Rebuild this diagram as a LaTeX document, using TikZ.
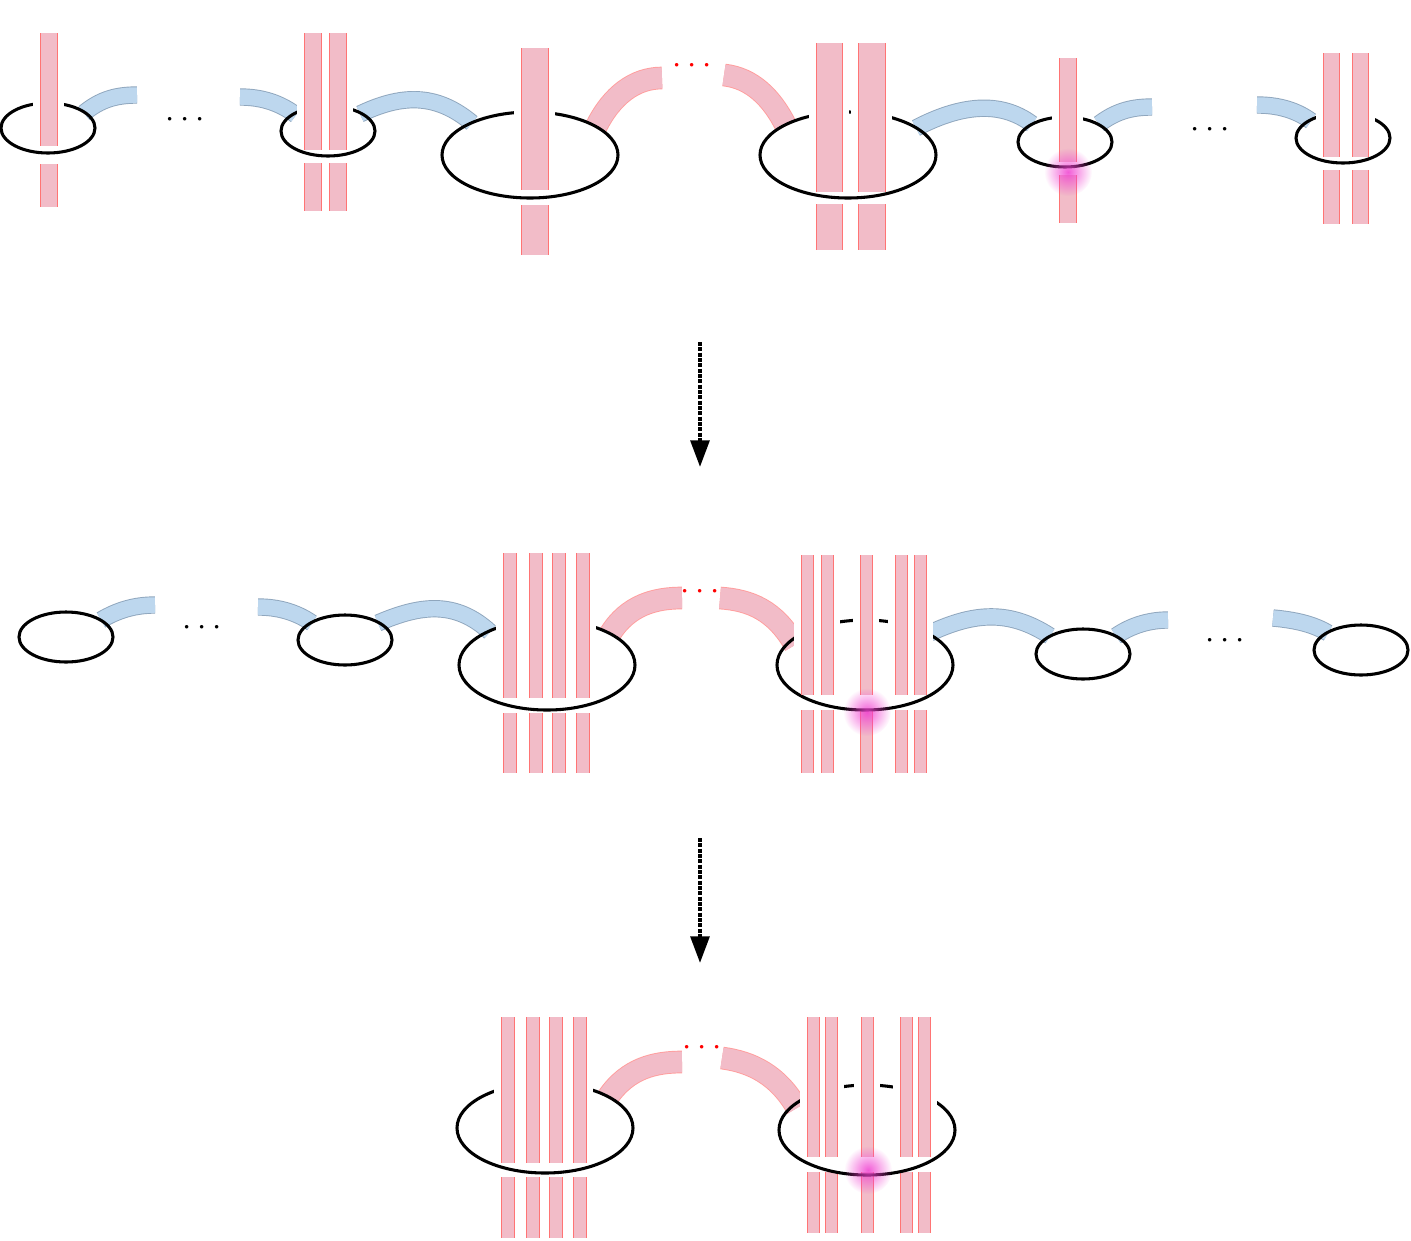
\documentclass[tikz,border=0pt]{standalone}
\usetikzlibrary{arrows.meta,fadings}
\definecolor{bpink}{HTML}{F2BCC8}
\definecolor{bred}{HTML}{FF7474}
\definecolor{bblue}{HTML}{BDD7EE}
\definecolor{bblueedge}{HTML}{8FA6BD}
\definecolor{glowc}{HTML}{F040D0}
\tikzfading[name=glowfade, inner color=transparent!15, outer color=transparent!100]
\tikzset{
  ring/.style={line width=2.3pt,black},
  dotsn/.style={font=\fontsize{30}{30}\selectfont},
  rdots/.style={font=\fontsize{30}{30}\selectfont,text=red},
}
\newcommand{\bandlo}[4]{\fill[bpink] (#1,#3) rectangle (#2,#4);
  \draw[bred,line width=0.7pt] (#1,#3)--(#1,#4) (#2,#3)--(#2,#4);}
\newcommand{\bandgap}[4]{\draw[white,line width=10pt] (#1,#3)--(#1,#4) (#2,#3)--(#2,#4);}
\newcommand{\bandup}[4]{\fill[bpink] (#1,#3) rectangle (#2,#4);
  \draw[bred,line width=0.7pt] (#1,#3)--(#1,#4) (#2,#3)--(#2,#4);}
\newcommand{\bluecon}[1]{\draw[bblueedge,line width=13pt] #1; \draw[bblue,line width=11.6pt] #1;}
\newcommand{\pinkcon}[1]{\draw[bred!70,line width=17pt] #1; \draw[bpink,line width=15.6pt] #1;}
\newcommand{\glow}[2]{\fill[glowc,path fading=glowfade] (#1,#2) circle (24);}
% full ring: list, ytop, ybotup, ylowtop, ylowbot, ymid, cx, cy, rx, ry
\newcommand{\ringset}[9]{%
  \foreach \a/\b in {#1}{\bandlo{\a}{\b}{#4}{#5}}
  \draw[ring] (#7,#6) ellipse (#8 and #9);
  \foreach \a/\b in {#1}{\bandgap{\a}{\b}{#2}{#6}}
  \foreach \a/\b in {#1}{\bandup{\a}{\b}{#2}{#3}}}
\begin{document}
\begin{tikzpicture}[x=0.75pt,y=-0.75pt]
\useasboundingbox (0,0) rectangle (1411,1240);
% ================= ROW 1
\bluecon{(84,113) .. controls (100,100) and (115,95) .. (137,95)}
\bluecon{(240,97) .. controls (262,97) and (280,103) .. (296,115)}
\bluecon{(360,114) .. controls (400,95) and (435,92) .. (472,123)}
\pinkcon{(596,127) .. controls (612,95) and (635,78) .. (662,78)}
\pinkcon{(724,75) .. controls (752,78) and (772,98) .. (786,126)}
\bluecon{(916,128) .. controls (960,105) and (1000,100) .. (1032,124)}
\bluecon{(1099,124) .. controls (1115,112) and (1130,107) .. (1152,107)}
\bluecon{(1257,105) .. controls (1278,105) and (1296,110) .. (1311,121)}
\node[dotsn] (d1) at (185,120) {$\cdots$};
\node[rdots] (d2) at (692,66) {$\cdots$};
\node[dotsn] (d3) at (1210,130) {$\cdots$};
\ringset{40/57}{33}{146}{164}{207}{128}{48}{47}{25}
\ringset{304/321,329/346}{33}{150}{163}{211}{131}{328}{47}{25}
\ringset{521/548}{48}{190}{205}{255}{155}{530}{88}{43}
\ringset{816/842,858/885}{43}{192}{204}{250}{155}{848}{88}{43}
\ringset{1059/1076}{58}{162}{175}{223}{142}{1065}{47}{25}
\glow{1068}{172}
\ringset{1323/1339,1352/1368}{53}{157}{170}{224}{138}{1343}{47}{25}
% ================= ARROWS
\coordinate (a1s) at (700,342); \coordinate (a1e) at (700,467);
\coordinate (a2s) at (700,838); \coordinate (a2e) at (700,963);
\draw[densely dotted,line width=3pt,-{Triangle[length=20pt,width=14pt]}] (a1s) -- (a1e);
\draw[densely dotted,line width=3pt,-{Triangle[length=20pt,width=14pt]}] (a2s) -- (a2e);
% ================= ROW 2
\bluecon{(101,620) .. controls (118,610) and (135,605) .. (155,605)}
\bluecon{(258,607) .. controls (278,607) and (296,612) .. (312,623)}
\bluecon{(378,623) .. controls (420,605) and (455,600) .. (490,632)}
\pinkcon{(610,634) .. controls (628,605) and (655,598) .. (682,598)}
\pinkcon{(720,598) .. controls (750,600) and (775,610) .. (795,645)}
\bluecon{(930,633) .. controls (975,612) and (1010,610) .. (1050,636)}
\bluecon{(1116,636) .. controls (1132,625) and (1150,620) .. (1168,620)}
\bluecon{(1273,618) .. controls (1295,620) and (1313,624) .. (1328,633)}
\node[dotsn] (d4) at (202,628) {$\cdots$};
\node[rdots] (d5) at (700,592) {$\cdots$};
\node[dotsn] (d6) at (1225,641) {$\cdots$};
\draw[ring] (66,637) ellipse (47 and 25);
\draw[ring] (345,640) ellipse (47 and 25);
\draw[ring] (1083,654) ellipse (47 and 25);
\draw[ring] (1361,650) ellipse (47 and 25);
\ringset{503/516,529/542,552/565,576/589}{553}{698}{713}{773}{665}{547}{88}{45}
\ringset{801/813,821/833,860/872,895/907,914/926}{555}{695}{710}{773}{665}{865}{88}{45}
\glow{867}{712}
% ================= ROW 3
\pinkcon{(608,1097) .. controls (628,1068) and (655,1062) .. (682,1062)}
\pinkcon{(722,1058) .. controls (752,1062) and (778,1075) .. (797,1108)}
\node[rdots] (d7) at (702,1048) {$\cdots$};
\ringset{501/514,526/539,549/562,573/586}{1017}{1163}{1177}{1238}{1128}{545}{88}{45}
\ringset{807/819,825/837,861/873,900/912,918/930}{1017}{1157}{1172}{1233}{1130}{867}{88}{45}
\glow{868}{1170}
\end{tikzpicture}
\end{document}
